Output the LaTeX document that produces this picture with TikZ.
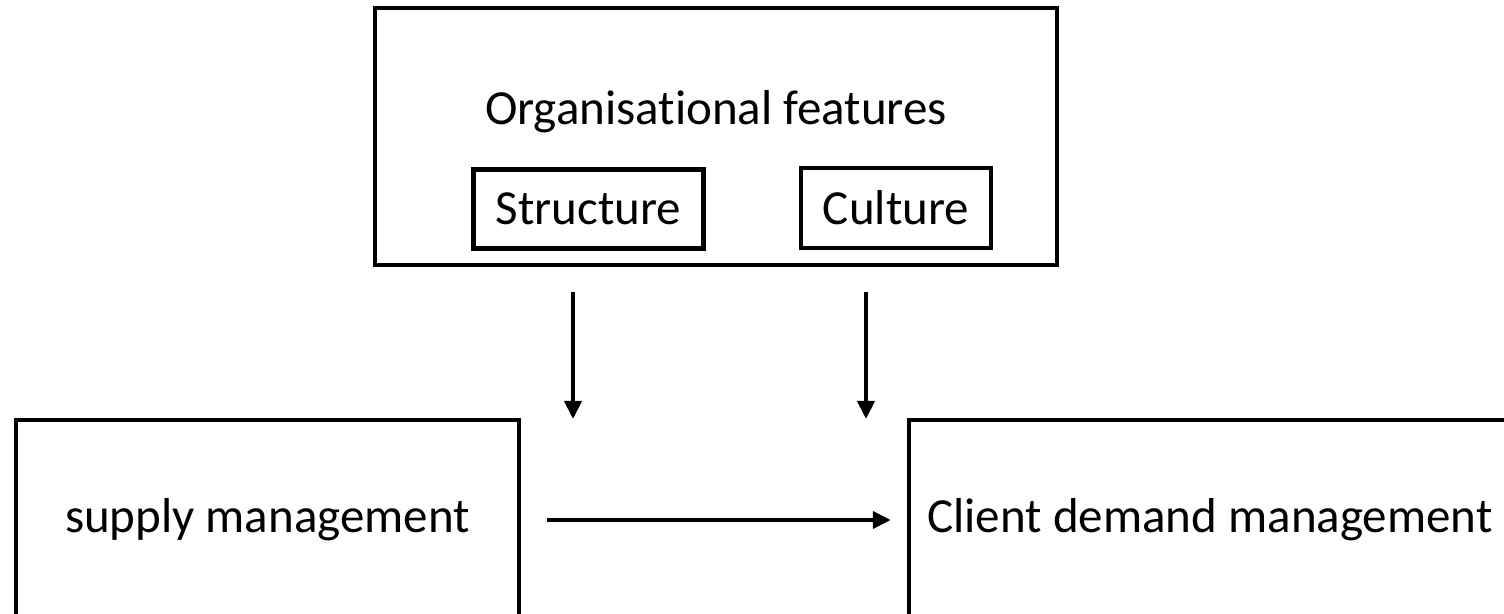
\documentclass[tikz,border=0pt]{standalone}
\usepackage{fontspec}
\setmainfont{Carlito}[Ligatures=NoCommon]
\usetikzlibrary{positioning,arrows.meta,calc}

\tikzset{
  box/.style={draw, line width=2.25pt, rectangle, inner sep=0pt, font=\fontsize{24.5}{29}\selectfont},
  arr/.style={line width=2pt, -{Triangle[length=9pt,width=8.5pt]}}
}

\begin{document}
\begin{tikzpicture}[x=0.5pt,y=-0.5pt]
  \useasboundingbox (0,0) rectangle (1504,614);

  \node[box, minimum width=341pt, minimum height=128.5pt] (org) at (716,136.5) {};
  \node[font=\fontsize{24.5}{29}\selectfont] (orgtxt) at (716,112) {Organisational features};
  \node[box, minimum width=115pt, minimum height=39.5pt] (struct) at (588.5,209) {Structure\hspace{5pt}};
  \node[box, minimum width=95pt, minimum height=40pt] (cult) at (896,208) {Culture};

  \node[box, minimum width=251.5pt, minimum height=100pt] (supply) at (267.5,520) {supply management};
  \node[box, minimum width=301pt, minimum height=100pt] (client) at (1210,520) {Client demand management};

  \coordinate (s1) at (573,292);
  \coordinate (e1) at (573,419);
  \coordinate (s2) at (866,292);
  \coordinate (e2) at (866,419);

  \draw[arr] (s1) -- (e1);
  \draw[arr] (s2) -- (e2);
  \draw[arr, shorten <=13pt, shorten >=8pt] (supply) -- (client);

\end{tikzpicture}
\end{document}
